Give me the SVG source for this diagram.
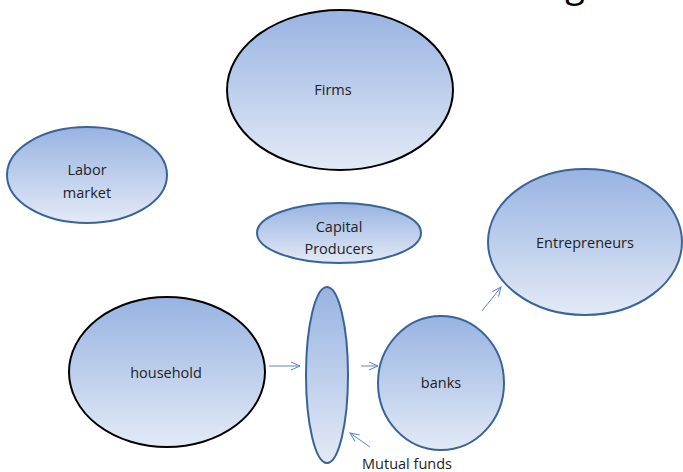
<svg xmlns="http://www.w3.org/2000/svg" width="683" height="472" viewBox="0 0 683 472">
<defs>
<linearGradient id="g" x1="0" y1="0" x2="0" y2="1">
<stop offset="0" stop-color="#98B3E2"/>
<stop offset="1" stop-color="#E3EAF6"/>
</linearGradient>
<marker id="a" markerWidth="12" markerHeight="12" refX="10" refY="5" orient="auto" markerUnits="userSpaceOnUse">
<path d="M1,1 L10,5 L1,9" fill="none" stroke="#5B87C5" stroke-width="1"/>
</marker>
<style>
.n{fill:url(#g);stroke-width:2}
.b{stroke:#3A6496}
.k{stroke:#000}
text{font-family:"Open Sans","Liberation Sans",sans-serif;font-size:14.5px;fill:#222;text-anchor:middle}
.c line{stroke:#5B87C5;stroke-width:1;marker-end:url(#a)}
</style>
</defs>
<rect width="683" height="472" fill="#fff"/>
<text x="575" y="-3" style="font-size:36px;fill:#000">g</text>
<g id="firms"><ellipse class="n k" cx="340" cy="90" rx="113" ry="80"/><text x="333" y="95">Firms</text></g>
<g id="labor"><ellipse class="n b" cx="87" cy="175" rx="80" ry="48"/><text x="87" y="175">Labor</text><text x="87" y="198">market</text></g>
<g id="capital"><ellipse class="n b" cx="339" cy="233" rx="82" ry="30"/><text x="339" y="232">Capital</text><text x="339" y="254">Producers</text></g>
<g id="entrepreneurs"><ellipse class="n b" cx="585" cy="242" rx="97" ry="73"/><text x="585" y="248">Entrepreneurs</text></g>
<g id="household"><ellipse class="n k" cx="167" cy="372" rx="98" ry="75"/><text x="166" y="378">household</text></g>
<g id="mutual"><ellipse class="n b" cx="327" cy="375" rx="21" ry="88"/><text x="407" y="469">Mutual funds</text></g>
<g id="banks"><ellipse class="n b" cx="441" cy="383" rx="63" ry="67"/><text x="441" y="388">banks</text></g>
<g class="c" id="connectors">
<line x1="269" y1="366" x2="300" y2="366"/>
<line x1="361" y1="366" x2="378" y2="366"/>
<line x1="370" y1="447" x2="350" y2="433"/>
<line x1="482" y1="311" x2="501" y2="287"/>
</g>
</svg>
